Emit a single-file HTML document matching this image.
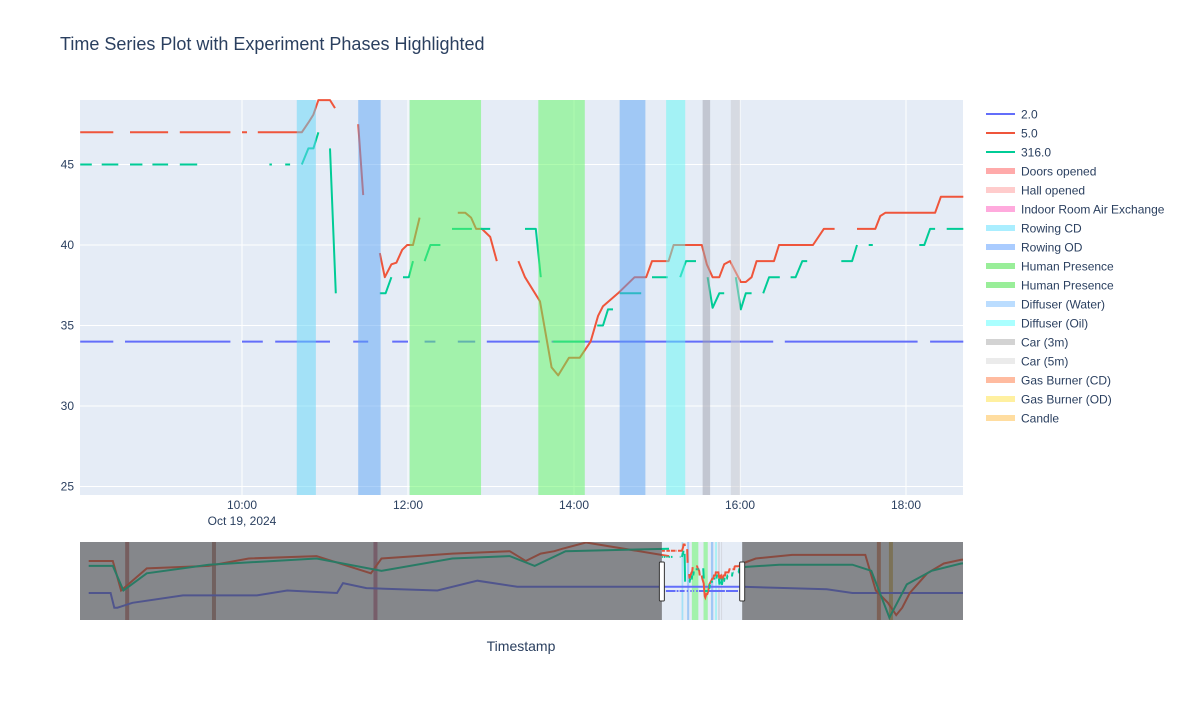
<!DOCTYPE html>
<html><head><meta charset="utf-8"><style>
body{margin:0;background:#fff;font-family:"Liberation Sans",Arial,sans-serif;}
svg text{font-family:"Liberation Sans",Arial,sans-serif;fill:#2a3f5f;}
</style></head><body>
<svg id="chart" width="1200" height="700" xmlns="http://www.w3.org/2000/svg">
<rect width="1200" height="700" fill="#fff"/>
<text x="60" y="50" font-size="18">Time Series Plot with Experiment Phases Highlighted</text>
<rect x="80" y="100" width="883" height="395" fill="#e5ecf6"/>
<g id="grid"></g>
<g id="series"></g>
<g id="bands"></g>
<g id="axes"></g>
<g id="legend"></g>
<g id="slider"></g>
<text x="521" y="651" font-size="14" text-anchor="middle">Timestamp</text>
</svg>
<script>
// ---- data (hours of Oct 19, 2024) ----
const blueT=[8.05,8.45,null,8.59,9.86,null,10.0,10.25,null,10.40,11.06,null,11.34,11.52,null,11.81,12.0,null,12.20,12.33,null,12.60,12.81,null,12.95,13.59,null,13.73,16.40,null,16.54,18.14,null,18.29,18.69];
const blueV=[34,34,null,34,34,null,34,34,null,34,34,null,34,34,null,34,34,null,34,34,null,34,34,null,34,34,null,34,34,null,34,34,null,34,34];
const redT=[8.05,8.45,null,8.65,9.11,null,9.25,9.86,null,10.0,10.06,null,10.19,10.72,10.80,10.86,10.92,11.06,11.12,null,11.40,11.46,null,11.66,11.72,11.80,11.86,11.93,11.99,12.06,12.14,null,12.60,12.69,12.76,12.82,12.89,12.99,13.07,null,13.33,13.41,13.59,13.73,13.81,13.94,14.07,14.20,14.29,14.35,14.53,14.73,14.87,14.94,15.14,15.20,15.54,15.60,15.67,15.75,15.81,15.88,15.94,16.01,16.07,16.14,16.20,16.41,16.47,16.88,17.01,17.14,null,17.41,17.63,17.69,17.75,18.35,18.42,18.69];
const redV=[47,47,null,47,47,null,47,47,null,47,47,null,47,47,47.6,48.1,49,49,48.5,null,47.5,43.1,null,39.5,38,38.8,38.9,39.7,40,40,41.7,null,42,42,41.7,41,41,40.5,39,null,39,38,36.5,32.4,31.9,33,33,34,35.6,36.2,37,38,38,39,39,40,40,38.8,38,38,38.8,39,38.4,37.7,37.7,38,39,39,40,40,41,41,null,41,41,41.8,42,42,43,43];
const greenT=[8.05,8.19,null,8.31,8.51,null,8.65,8.80,null,8.92,9.11,null,9.25,9.46,null,10.33,10.36,null,10.52,10.58,null,10.72,10.80,10.86,10.92,null,11.06,11.13,null,11.66,11.73,11.80,null,11.94,12.01,12.06,null,12.20,12.27,12.39,null,12.53,12.77,null,12.87,12.99,null,13.41,13.54,13.60,null,13.75,14.13,null,14.28,14.35,14.41,14.47,null,14.55,14.81,null,14.94,15.13,null,15.28,15.35,15.47,null,15.61,15.67,15.75,15.81,null,15.95,16.01,16.07,16.14,null,16.28,16.35,16.48,null,16.61,16.67,16.75,16.81,null,17.22,17.35,17.41,null,17.55,17.60,null,18.16,18.22,18.29,18.35,null,18.49,18.69];
const greenV=[45,45,null,45,45,null,45,45,null,45,45,null,45,45,null,45,45,null,45,45,null,45,46,46,47,null,46,37,null,37,37,38,null,38,38,39,null,39,40,40,null,41,41,null,41,41,null,41,41,38,null,34,34,null,35,35,36,36,null,37,37,null,38,38,null,38,39,39,null,38,36.1,37,37,null,38,36,37,37,null,37,38,38,null,38,38,39,39,null,39,39,40,null,40,40,null,40,40,41,41,null,41,41];
const bandStart=[10.66,11.40,12.02,13.57,14.55,15.11,15.55,15.89];
const bandEnd=[10.89,11.67,12.88,14.13,14.86,15.34,15.64,16.00];
const bandColor=['#61d6f8','#5ba4f4','#5ff860','#5ff860','#5ba4f4','#61f8f4','#a0a0ac','#c7c8ce'];
const yTicks=[25,30,35,40,45];
const xTicks=[10,12,14,16,18];
const xTickLabels=['10:00','12:00','14:00','16:00','18:00'];
const legendNames=['2.0','5.0','316.0','Doors opened','Hall opened','Indoor Room Air Exchange','Rowing CD','Rowing OD','Human Presence','Human Presence','Diffuser (Water)','Diffuser (Oil)','Car (3m)','Car (5m)','Gas Burner (CD)','Gas Burner (OD)','Candle'];
const legendColors=['#636efa','#EF553B','#00cc96','#ffaaaa','#ffcccc','#ffaadd','#aaeeff','#aaccff','#99ee99','#99ee99','#bbddff','#aaffff','#d3d3d3','#ebebeb','#ffbba0','#fff0a0','#ffdda0'];
// slider (hours since Oct 19 00:00, wide range)
const sRedT=[-67.9,-64.7,-63.6,-60.2,-52.0,-46.7,-37.7,-30.5,-29.1,-19.7,-12.1,-10.0,-8.0,-6.2,-5.1,-2.0,9.0];
const sRedV=[47,47,35,44,45,48,49,42,48,50,51,47,50,51,52,54.5,49];
const sRedT2=[18.7,20.5,25.3,35.0,36.4,38.0,39.1,39.9,40.9,43.2,45.4,47.7,49.8];
const sRedV2=[46,48,49.5,49.5,35,30,25,28,34,42,46,47.5,48];
const sGreenT=[-67.9,-64.7,-63.3,-60.2,-52.0,-37.7,-29.1,-19.7,-12.1,-8.8,-4.7,9.0];
const sGreenV=[45,45,35,42,45.5,48,43,48,49,45,51,52];
const sGreenT2=[18.7,23.6,33.3,35.8,38.2,40.5,43.8,47.7,49.8];
const sGreenV2=[44.5,45.5,45.5,43,24,37.5,43,46,46.5];
const sBlueT=[-67.9,-65.0,-64.5,-64.1,-62.1,-55.4,-45.6,-41.6,-35.0,-34.2,-31.1,-21.7,-16.4,-11.1,-0.4,18.7,29.9,33.3,49.8];
const sBlueV=[34,34,28,28,30,33,33,35,34,38,36,35,39,36.5,36.5,36.5,35.5,34,34];
const sBandT=[-62.8,-51.3,-29.9,36.8,38.4];
const sBandColor=['#b05a5a','#a0645a','#b45a82','#c8643c','#c8a03c'];

const svg=document.getElementById('chart');
const NS='http://www.w3.org/2000/svg';
function el(tag,attrs,parent){const e=document.createElementNS(NS,tag);for(const k in attrs)e.setAttribute(k,attrs[k]);parent.appendChild(e);return e;}
const X0=80,X1=963,Y0=100,Y1=495;
const xS=h=>242+(h-10)*83;
const yS=v=>245-(v-40)*16.1;
const grid=document.getElementById('grid'),axes=document.getElementById('axes');
yTicks.forEach(v=>{
  const l=el('line',{x1:X0,x2:X1,y1:yS(v),y2:yS(v),stroke:'#fff','stroke-width':1},grid);
  
  
  const t=el('text',{x:74,y:yS(v)+4,'font-size':12,'text-anchor':'end'},axes);
  t.textContent=v;
  
  
});
xTicks.forEach((h,i)=>{
  const l=el('line',{x1:xS(h),x2:xS(h),y1:Y0,y2:Y1,stroke:'#fff','stroke-width':1},grid);
  
  
  const t=el('text',{x:xS(h),y:509,'font-size':12,'text-anchor':'middle'},axes);
  t.textContent=xTickLabels[i];
  
  
});
const d=el('text',{x:xS(10),y:525,'font-size':12,'text-anchor':'middle'},axes);
d.textContent='Oct 19, 2024';



function pathD(T,V,xf,yf){let s='',pen=false;for(let i=0;i<T.length;i++){if(T[i]===null||V[i]===null){pen=false;continue;}s+=(pen?'L':'M')+xf(T[i]).toFixed(1)+' '+yf(V[i]).toFixed(1)+' ';pen=true;}return s;}
const ser=document.getElementById('series');
[[blueT,blueV,'#636efa','series-2'],[redT,redV,'#EF553B','series-5'],[greenT,greenV,'#00cc96','series-316']].forEach(s=>{
  const p=el('path',{d:pathD(s[0],s[1],xS,yS),fill:'none',stroke:s[2],'stroke-width':2,'stroke-linejoin':'round'},ser);
  
  
});
const bands=document.getElementById('bands');
bandStart.forEach((b,i)=>{
  const r=el('rect',{x:xS(b),y:Y0,width:xS(bandEnd[i])-xS(b),height:Y1-Y0,fill:bandColor[i],opacity:0.5},bands);
  
  
});
const lg=document.getElementById('legend');
legendNames.forEach((n,i)=>{
  const y=114+i*19;
  const l=el('line',{x1:986,x2:1015,y1:y,y2:y,stroke:legendColors[i],'stroke-width':i<3?2:6},lg);
  
  
  const t=el('text',{x:1021,y:y+4.5,'font-size':12},lg);
  t.textContent=n;
  
  
});
// range slider
const sl=document.getElementById('slider');
const SX0=80,SX1=963,SY0=542,SY1=620;
const sx=h=>80+(h+69.05)/117*883;
const sy=v=>561-(v-47)*2.46;
const syw=v=>591-(v-34)*3.1;
const bg=el('rect',{x:SX0,y:SY0,width:SX1-SX0,height:SY1-SY0,fill:'#e5ecf6'},sl);


const cp=el('clipPath',{id:'sc'},sl);el('rect',{x:SX0,y:SY0,width:SX1-SX0,height:SY1-SY0},cp);
const sg=el('g',{'clip-path':'url(#sc)'},sl);


sBandT.forEach((t,i)=>{
  const r=el('rect',{x:sx(t)-2,y:SY0,width:4,height:SY1-SY0,fill:sBandColor[i],opacity:0.7},sg);
  
  
});
bandStart.forEach((b,i)=>{
  const r=el('rect',{x:sx(b),y:SY0,width:Math.max(1,sx(bandEnd[i])-sx(b)),height:SY1-SY0,fill:bandColor[i],opacity:0.5},sg);
  
  
});
[[sBlueT,sBlueV,'#636efa',sy],[blueT,blueV,'#636efa',syw],[sRedT,sRedV,'#EF553B',sy],[sRedT2,sRedV2,'#EF553B',sy],[redT,redV,'#EF553B',syw],[sGreenT,sGreenV,'#00cc96',sy],[sGreenT2,sGreenV2,'#00cc96',sy],[greenT,greenV,'#00cc96',syw]].forEach(s=>{
  const p=el('path',{d:pathD(s[0],s[1],sx,s[3]),fill:'none',stroke:s[2],'stroke-width':2}, sg);
  
  
});
const wl=sx(8.05),wr=sx(18.69);
const m1=el('rect',{x:SX0,y:SY0,width:wl-SX0,height:SY1-SY0,fill:'#444',opacity:0.6},sl);


const m2=el('rect',{x:wr,y:SY0,width:SX1-wr,height:SY1-SY0,fill:'#444',opacity:0.6},sl);


[wl,wr].forEach((x,i)=>{
  const h=el('rect',{x:x-2.5,y:562,width:5,height:39,fill:'#fff',stroke:'#333','stroke-width':1,rx:1},sl);
  
  
});
</script>
</body></html>
